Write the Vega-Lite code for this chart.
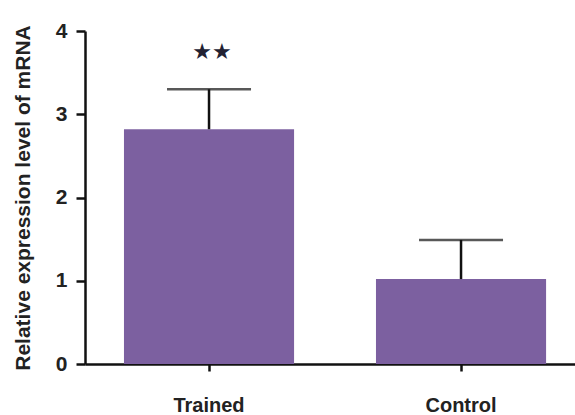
{
  "$schema": "https://vega.github.io/schema/vega-lite/v6.json",
  "width": 490,
  "height": 333,
  "autosize": "none",
  "padding": {"left": 85, "top": 31, "right": 0, "bottom": 51},
  "background": "white",
  "config": {
    "view": {"stroke": null},
    "font": "Liberation Sans"
  },
  "data": {
    "values": [
      {"group": "Trained", "mean": 2.82, "upper": 3.30, "sig": "★★", "sigY": 3.75},
      {"group": "Control", "mean": 1.02, "upper": 1.49, "sig": "", "sigY": 0}
    ]
  },
  "encoding": {
    "x": {
      "field": "group",
      "type": "nominal",
      "sort": ["Trained", "Control"],
      "scale": {"paddingInner": 0.325, "paddingOuter": 0.1347, "align": 0.574},
      "axis": {
        "title": null,
        "labelAngle": 0,
        "labelFont": "Liberation Sans",
        "labelFontWeight": "bold",
        "labelFontSize": 20,
        "labelColor": "#222222",
        "labelPadding": 24,
        "domainColor": "#111111",
        "domainWidth": 2.5,
        "tickColor": "#111111",
        "tickWidth": 2.5,
        "tickSize": 7
      }
    }
  },
  "layer": [
    {
      "mark": {"type": "bar", "color": "#7C60A0"},
      "encoding": {
        "y": {
          "field": "mean",
          "type": "quantitative",
          "scale": {"domain": [0, 4], "nice": false},
          "axis": {
            "title": "Relative expression level of  mRNA",
            "titleFont": "Liberation Sans",
            "titleFontWeight": "bold",
            "titleFontSize": 21,
            "titleColor": "#222222",
            "titlePadding": 22,
            "values": [0, 1, 2, 3, 4],
            "format": "d",
            "grid": false,
            "labelFont": "Liberation Sans",
            "labelFontWeight": "bold",
            "labelFontSize": 21,
            "labelColor": "#222222",
            "labelPadding": 9,
            "domainColor": "#111111",
            "domainWidth": 2.5,
            "tickColor": "#111111",
            "tickWidth": 2.5,
            "tickSize": 9
          }
        }
      }
    },
    {
      "mark": {"type": "rule", "color": "#111111", "strokeWidth": 2.5},
      "encoding": {
        "y": {"field": "mean", "type": "quantitative"},
        "y2": {"field": "upper"}
      }
    },
    {
      "mark": {"type": "tick", "color": "#111111", "thickness": 2.5, "size": 84, "orient": "horizontal"},
      "encoding": {
        "y": {"field": "upper", "type": "quantitative"}
      }
    },
    {
      "mark": {"type": "text", "font": "DejaVu Sans", "fontSize": 22, "color": "#222233", "baseline": "middle", "dx": 3},
      "encoding": {
        "y": {"field": "sigY", "type": "quantitative"},
        "text": {"field": "sig"}
      }
    }
  ]
}
